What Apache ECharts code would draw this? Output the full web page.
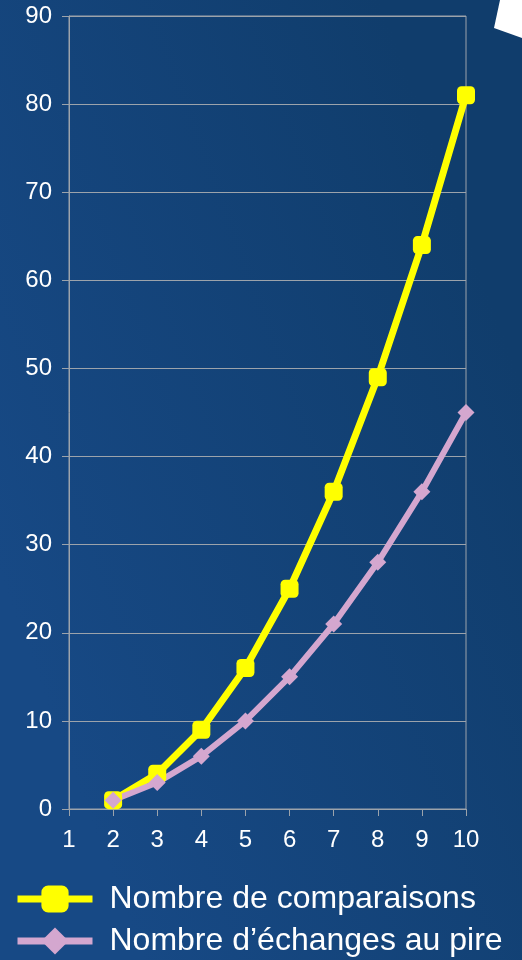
<!DOCTYPE html>
<html>
<head>
<meta charset="utf-8">
<script src="https://cdn.jsdelivr.net/npm/echarts@6/dist/echarts.min.js"></script>
<style>
  html, body { margin: 0; padding: 0; }
  #chart { width: 522px; height: 960px; }
</style>
</head>
<body>
<div id="chart"></div>
<script>
// taille n de la liste
const nValues = [2, 3, 4, 5, 6, 7, 8, 9, 10]
const comparaisons = [1, 4, 9, 16, 25, 36, 49, 64, 81]
const echanges = [1, 3, 6, 10, 15, 21, 28, 36, 45]
const seriesNames = ['Nombre de comparaisons', 'Nombre d\u2019échanges au pire']

const pairs = (ys) => nValues.map((x, i) => [x, ys[i]])

const gridColor = '#9ca3ab'
const yellow = '#ffff00'
const pink = '#d4a7cf'
const chart = echarts.init(document.getElementById('chart'))

chart.setOption({
  backgroundColor: new echarts.graphic.LinearGradient(0, 0.6, 1, 0.4, [
    { offset: 0, color: '#174985' },
    { offset: 1, color: '#103d6c' }
  ]),
  textStyle: { fontFamily: 'Liberation Sans, Arial, sans-serif' },
  animation: false,
  graphic: [{
    type: 'polygon',
    shape: { points: [[500, 0], [522, 0], [522, 38], [494, 28]] },
    style: { fill: '#ffffff' }
  }],
  grid: {
    left: 69, right: 56, top: 16, bottom: 151,
    show: true, borderColor: gridColor, borderWidth: 1
  },
  xAxis: {
    type: 'value',
    min: 1, max: 10, interval: 1,
    axisLine: { lineStyle: { color: gridColor, width: 1 } },
    axisTick: { show: true, length: 7, lineStyle: { color: gridColor } },
    axisLabel: { color: '#ffffff', fontSize: 24, margin: 19 },
    splitLine: { show: false }
  },
  yAxis: {
    type: 'value',
    min: 0, max: 90, interval: 10,
    axisLine: { show: true, lineStyle: { color: gridColor, width: 1 } },
    axisTick: { show: true, length: 7, lineStyle: { color: gridColor } },
    axisLabel: { color: '#ffffff', fontSize: 24, margin: 17 },
    splitLine: { lineStyle: { color: gridColor, width: 1 } }
  },
  legend: {
    orient: 'vertical',
    left: 9, top: 878, height: 200,
    itemWidth: 75, itemHeight: 34, itemGap: 10,
    lineStyle: { width: 7 },
    textStyle: { color: '#ffffff', fontSize: 32, padding: [0, 0, 0, 12] },
    data: seriesNames
  },
  series: [
    {
      name: seriesNames[0],
      type: 'line',
      data: pairs(comparaisons),
      symbol: 'roundRect',
      symbolSize: 18,
      lineStyle: { color: yellow, width: 7 },
      itemStyle: { color: yellow }
    },
    {
      name: seriesNames[1],
      type: 'line',
      data: pairs(echanges),
      symbol: 'diamond',
      symbolSize: 17,
      lineStyle: { color: pink, width: 6 },
      itemStyle: { color: pink }
    }
  ]
})
</script>
</body>
</html>
